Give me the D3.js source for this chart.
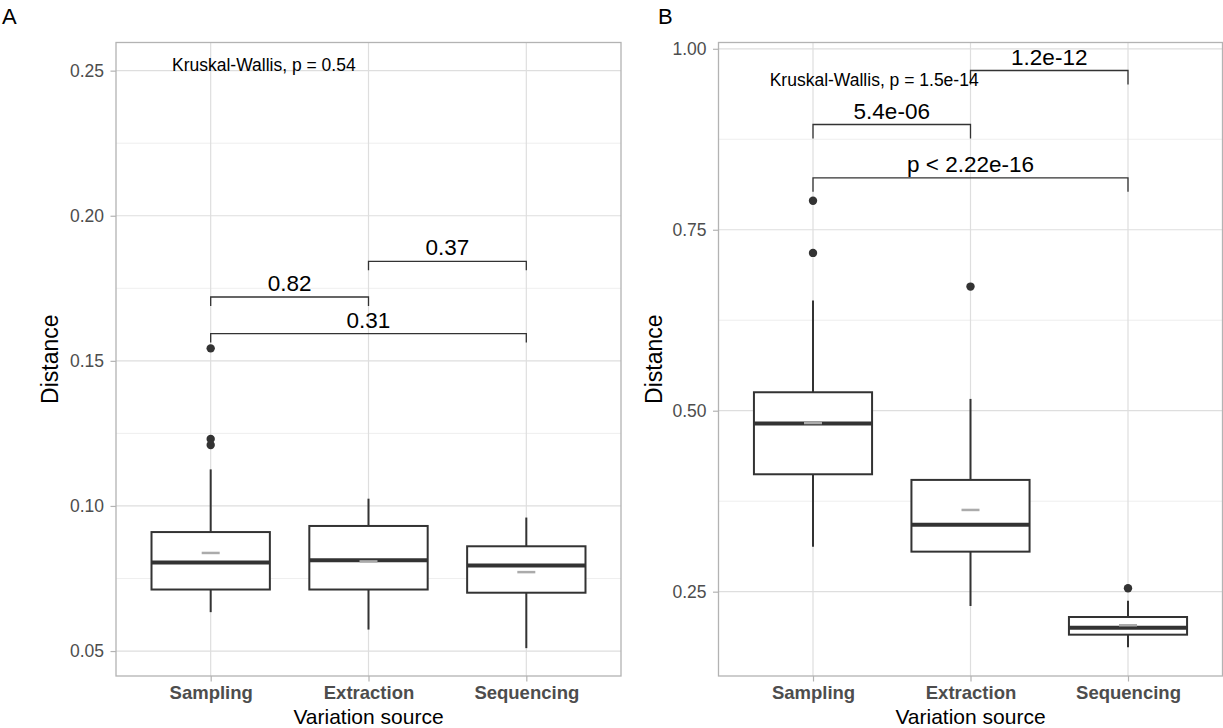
<!DOCTYPE html>
<html>
<head>
<meta charset="utf-8">
<script src="https://cdn.jsdelivr.net/npm/d3@7"></script>
<style>
  body { margin: 0; background: #fff; }
  svg text { font-family: "Liberation Sans", Arial, sans-serif; }
</style>
</head>
<body>
<svg id="chart" width="1223" height="728"></svg>
<script>
const categories = ["Sampling", "Extraction", "Sequencing"];

// Panel A - box stats per category
const aLower    = [0.0634, 0.0574, 0.0510];
const aQ1       = [0.0712, 0.0712, 0.0701];
const aMedian   = [0.0805, 0.0813, 0.0795];
const aQ3       = [0.0910, 0.0931, 0.0861];
const aUpper    = [0.1126, 0.1025, 0.0960];
const aMean     = [0.0838, 0.0809, 0.0772];
const aOutliers = [[0.1543, 0.1231, 0.1210], [], []];
const aTicks    = [0.05, 0.10, 0.15, 0.20, 0.25];
const aMinor    = [0.075, 0.125, 0.175, 0.225];
const aPairs    = [["Sampling", "Extraction"], ["Extraction", "Sequencing"], ["Sampling", "Sequencing"]];
const aPairY    = [0.1720, 0.1843, 0.1594];
const aPairP    = ["0.82", "0.37", "0.31"];
const aKruskal  = "Kruskal-Wallis, p = 0.54";

// Panel B - box stats per category
const bLower    = [0.3122, 0.2302, 0.1731];
const bQ1       = [0.4122, 0.3053, 0.1906];
const bMedian   = [0.4822, 0.3426, 0.2003];
const bQ3       = [0.5255, 0.4044, 0.2150];
const bUpper    = [0.6522, 0.5163, 0.2376];
const bMean     = [0.4830, 0.3629, 0.2036];
const bOutliers = [[0.790, 0.718], [0.6715], [0.2547]];
const bTicks    = [0.25, 0.50, 0.75, 1.00];
const bMinor    = [0.375, 0.625, 0.875];
const bPairs    = [["Extraction", "Sequencing"], ["Sampling", "Extraction"], ["Sampling", "Sequencing"]];
const bPairY    = [0.970, 0.8954, 0.8217];
const bPairP    = ["1.2e-12", "5.4e-06", "p < 2.22e-16"];
const bKruskal  = "Kruskal-Wallis, p = 1.5e-14";

const svg = d3.select("#chart");

function drawPanel(p) {
  const g = svg.append("g");

  const x = d3.scalePoint().domain(categories).range([p.left, p.right]).padding(0.6);
  const y = d3.scaleLinear().domain(p.yDomain).range([p.bottom, p.top]);
  const step = x.step();
  const boxW = step * 0.75;

  // grid
  g.selectAll(".minor").data(p.minor).join("line")
    .attr("x1", p.left).attr("x2", p.right)
    .attr("y1", d => y(d)).attr("y2", d => y(d))
    .attr("stroke", "#e6e6e6").attr("stroke-width", 0.7);
  g.selectAll(".major").data(p.ticks).join("line")
    .attr("x1", p.left).attr("x2", p.right)
    .attr("y1", d => y(d)).attr("y2", d => y(d))
    .attr("stroke", "#dedede").attr("stroke-width", 1.2);
  g.selectAll(".vgrid").data(categories).join("line")
    .attr("x1", d => x(d)).attr("x2", d => x(d))
    .attr("y1", p.top).attr("y2", p.bottom)
    .attr("stroke", "#dedede").attr("stroke-width", 1.2);

  // axes
  const yAxis = d3.axisLeft(y).tickValues(p.ticks).tickFormat(d3.format(".2f"))
    .tickSize(5.5).tickPadding(6.5);
  g.append("g").attr("transform", `translate(${p.left},0)`).call(yAxis)
    .call(a => a.select(".domain").remove())
    .call(a => a.selectAll("line").attr("stroke", "#b3b3b3").attr("stroke-width", 1.2))
    .call(a => a.selectAll("text").attr("fill", "#4d4d4d").style("font-size", "17.5px"));

  const xAxis = d3.axisBottom(x).tickSize(5.5).tickPadding(4.5);
  g.append("g").attr("transform", `translate(0,${p.bottom})`).call(xAxis)
    .call(a => a.select(".domain").remove())
    .call(a => a.selectAll("line").attr("stroke", "#b3b3b3").attr("stroke-width", 1.2))
    .call(a => a.selectAll("text").attr("fill", "#4d4d4d")
      .style("font-size", "18.5px").style("font-weight", "bold"));

  // boxes
  categories.forEach((c, i) => {
    const cx = x(c);
    g.append("line").attr("x1", cx).attr("x2", cx)
      .attr("y1", y(p.upper[i])).attr("y2", y(p.q3[i]))
      .attr("stroke", "#333").attr("stroke-width", 2);
    g.append("line").attr("x1", cx).attr("x2", cx)
      .attr("y1", y(p.q1[i])).attr("y2", y(p.lower[i]))
      .attr("stroke", "#333").attr("stroke-width", 2);
    g.append("rect")
      .attr("x", cx - boxW / 2).attr("width", boxW)
      .attr("y", y(p.q3[i])).attr("height", y(p.q1[i]) - y(p.q3[i]))
      .attr("fill", "#fff").attr("stroke", "#333").attr("stroke-width", 2);
    g.append("line").attr("x1", cx - boxW / 2).attr("x2", cx + boxW / 2)
      .attr("y1", y(p.median[i])).attr("y2", y(p.median[i]))
      .attr("stroke", "#333").attr("stroke-width", 4);
    g.append("line").attr("x1", cx - 9).attr("x2", cx + 9)
      .attr("y1", y(p.mean[i])).attr("y2", y(p.mean[i]))
      .attr("stroke", "#ababab").attr("stroke-width", 2.5);
    g.selectAll(null).data(p.outliers[i]).join("circle")
      .attr("cx", cx).attr("cy", d => y(d)).attr("r", 4.2)
      .attr("fill", "#333");
  });

  // border
  g.append("rect")
    .attr("x", p.left).attr("y", p.top)
    .attr("width", p.right - p.left).attr("height", p.bottom - p.top)
    .attr("fill", "none").attr("stroke", "#b3b3b3").attr("stroke-width", 1.3);

  // pairwise brackets
  p.pairs.forEach((pair, i) => {
    const x1 = x(pair[0]), x2 = x(pair[1]), yy = y(p.pairY[i]);
    g.append("path")
      .attr("d", `M${x1},${yy + p.tip}V${yy}H${x2}V${yy + p.tip}`)
      .attr("fill", "none").attr("stroke", "#333").attr("stroke-width", 1.3);
    g.append("text").attr("x", (x1 + x2) / 2).attr("y", yy - 6)
      .attr("text-anchor", "middle").style("font-size", "22.5px")
      .attr("fill", "#000").text(p.pairP[i]);
  });

  // global test label
  g.append("text")
    .attr("x", x("Sampling") + p.kwOffset * step).attr("y", y(p.kwY))
    .style("font-size", "17.5px").attr("fill", "#000")
    .text(p.kruskal);

  // titles
  g.append("text")
    .attr("x", (p.left + p.right) / 2).attr("y", 723.5)
    .attr("text-anchor", "middle").style("font-size", "21px")
    .text("Variation source");
  g.append("text")
    .attr("transform", `translate(${p.titleX},${(p.top + p.bottom) / 2}) rotate(-90)`)
    .attr("text-anchor", "middle").style("font-size", "23px")
    .text("Distance");
  g.append("text")
    .attr("x", p.letterX).attr("y", 24)
    .style("font-size", "22px").text(p.letter);
}

drawPanel({
  left: 116, right: 621, top: 42.5, bottom: 676,
  yDomain: [0.0414, 0.2597], ticks: aTicks, minor: aMinor,
  lower: aLower, q1: aQ1, median: aMedian, q3: aQ3, upper: aUpper,
  mean: aMean, outliers: aOutliers,
  pairs: aPairs, pairY: aPairY, pairP: aPairP, tip: 9,
  kruskal: aKruskal, kwOffset: -0.245, kwY: 0.2500,
  titleX: 57.5, letter: "A", letterX: 2
});

drawPanel({
  left: 718.5, right: 1222.5, top: 42.5, bottom: 676,
  yDomain: [0.1335, 1.0087], ticks: bTicks, minor: bMinor,
  lower: bLower, q1: bQ1, median: bMedian, q3: bQ3, upper: bUpper,
  mean: bMean, outliers: bOutliers,
  pairs: bPairs, pairY: bPairY, pairP: bPairP, tip: 14,
  kruskal: bKruskal, kwOffset: -0.275, kwY: 0.949,
  titleX: 662, letter: "B", letterX: 658
});
</script>
</body>
</html>
